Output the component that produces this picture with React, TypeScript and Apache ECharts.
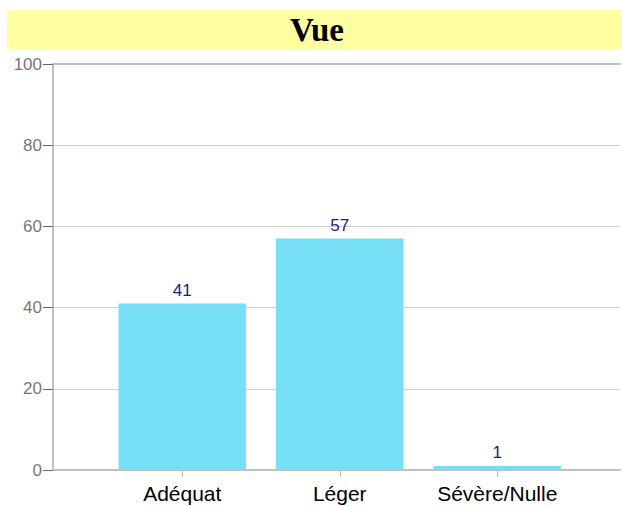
import React, { useEffect, useRef } from "react";
import * as echarts from "echarts";

const categories = ["Adéquat", "Léger", "Sévère/Nulle"];
const values = [41, 57, 1];
const titleText = "Vue";

export default function App() {
  const ref = useRef<HTMLDivElement>(null);
  useEffect(() => {
    if (!ref.current) return;
    const chart = echarts.init(ref.current, null, { renderer: "svg" });
    chart.setOption({
      animation: false,
      backgroundColor: "#ffffff",
      graphic: [
        {
          type: "rect",
          shape: { x: 7, y: 10, width: 615, height: 39 },
          style: { fill: "#ffffa0" },
          z: 0,
        },
        {
          type: "text",
          x: 317,
          y: 30,
          style: {
            text: titleText,
            fontFamily: "Liberation Serif, Times New Roman, serif",
            fontWeight: "bold",
            fontSize: 33,
            fill: "#000000",
            align: "center",
            verticalAlign: "middle",
          },
          z: 1,
        },
      ],
      grid: [
        { left: 53, right: 2, top: 64, bottom: 36 },
        { left: 103.5, right: 46, top: 64, bottom: 36 },
      ],
      xAxis: [
        {
          type: "value",
          gridIndex: 0,
          position: "bottom",
          min: 0,
          max: 1,
          axisLine: { show: true, lineStyle: { color: "#c0c0c0", width: 2 } },
          axisTick: { show: false },
          axisLabel: { show: false },
          splitLine: { show: false },
        },
        {
          type: "value",
          gridIndex: 0,
          position: "top",
          min: 0,
          max: 1,
          axisLine: { show: true, lineStyle: { color: "#c0c0c0", width: 2 } },
          axisTick: { show: false },
          axisLabel: { show: false },
          splitLine: { show: false },
        },
        {
          type: "category",
          gridIndex: 1,
          data: categories,
          axisLine: { show: false },
          axisTick: {
            show: true,
            alignWithLabel: true,
            length: 7,
            lineStyle: { color: "#b8b8b8", width: 1 },
          },
          axisLabel: {
            color: "#000000",
            fontSize: 21,
            fontFamily: "Liberation Sans, Arial, sans-serif",
            margin: 13,
          },
        },
      ],
      yAxis: [
        {
          type: "value",
          gridIndex: 0,
          min: 0,
          max: 100,
          interval: 20,
          axisLine: { show: true, lineStyle: { color: "#c0c0c0", width: 2 } },
          axisTick: { show: true, length: 10, lineStyle: { color: "#666666", width: 1 } },
          axisLabel: {
            color: "#777777",
            fontSize: 17,
            fontFamily: "Liberation Sans, Arial, sans-serif",
            margin: 11,
          },
          splitLine: { show: true, lineStyle: { color: "#d0d0d0", width: 1 } },
        },
        {
          type: "value",
          gridIndex: 1,
          min: 0,
          max: 100,
          show: false,
        },
      ],
      series: [
        {
          type: "bar",
          xAxisIndex: 2,
          yAxisIndex: 1,
          data: values,
          barCategoryGap: "19%",
          itemStyle: { color: "#77dff5" },
          label: {
            show: true,
            position: "top",
            distance: 5,
            color: "#1a1a8c",
            fontSize: 17,
            fontFamily: "Liberation Sans, Arial, sans-serif",
          },
          z: 3,
        },
      ],
    });
    return () => chart.dispose();
  }, []);
  return (
    <div
      ref={ref}
      style={{ position: "fixed", left: 0, top: 0, width: 622, height: 506 }}
    />
  );
}
